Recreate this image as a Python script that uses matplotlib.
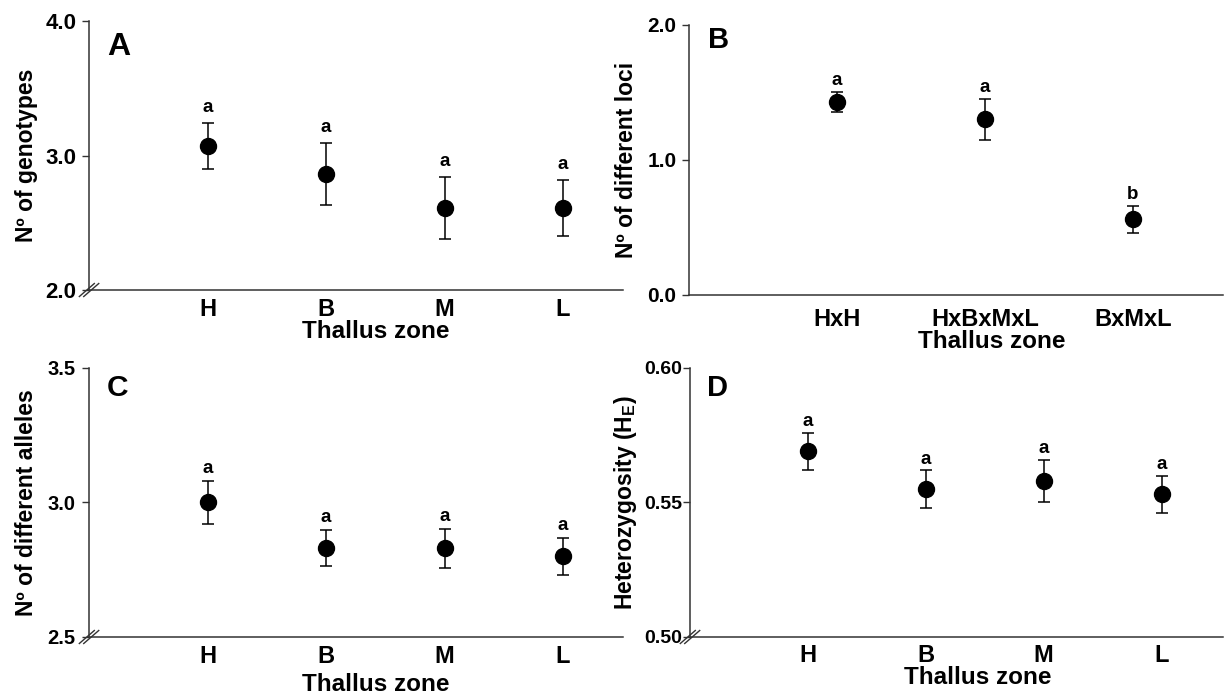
import matplotlib.pyplot as plt
import numpy as np

plt.rcParams['font.family'] = ['Liberation Sans', 'DejaVu Sans']
plt.rcParams['font.weight'] = 'bold'
plt.rcParams['mathtext.fontset'] = 'custom'
plt.rcParams['mathtext.rm'] = 'Liberation Sans:bold'
plt.rcParams['mathtext.bf'] = 'Liberation Sans:bold'
plt.rcParams['mathtext.it'] = 'Liberation Sans:bold'

# categories
zones = ['H', 'B', 'M', 'L']
crosses = ['HxH', 'HxBxMxL', 'BxMxL']

# A - number of genotypes
genotypes_mean = [3.07, 2.86, 2.61, 2.61]
genotypes_se = [0.17, 0.23, 0.23, 0.21]
genotypes_grp = ['a', 'a', 'a', 'a']

# B - number of different loci
loci_mean = [1.43, 1.30, 0.56]
loci_se = [0.075, 0.15, 0.10]
loci_grp = ['a', 'a', 'b']

# C - number of different alleles
alleles_mean = [3.00, 2.83, 2.83, 2.80]
alleles_se = [0.08, 0.067, 0.072, 0.068]
alleles_grp = ['a', 'a', 'a', 'a']

# D - expected heterozygosity
het_mean = [0.569, 0.555, 0.558, 0.553]
het_se = [0.0069, 0.0069, 0.0077, 0.0069]
het_grp = ['a', 'a', 'a', 'a']

spine_col = '#333333'

fig = plt.figure(figsize=(12.28, 6.98), dpi=100)


def panel(rect, labels, means, se, grps, xmax, ylim, yticks, yfmt, ylabel,
          letter, letter_pos, letter_size, xlabel_pos, xpad, ypad, ysize,
          grp_off, breaks=True):
    ax = fig.add_axes(rect)
    x = np.arange(1, len(labels) + 1)
    ax.errorbar(x, means, yerr=se, fmt='o', color='black', ms=11.5,
                capsize=4.5, elinewidth=1.1, capthick=1.1)
    for xi, m, s, g in zip(x, means, se, grps):
        ax.annotate(g, (xi, m + s), xytext=(0, grp_off), textcoords='offset points',
                    ha='center', va='baseline', fontsize=13.5, fontweight='bold')

    ax.set_xlim(0, xmax)
    ax.set_ylim(*ylim)
    ax.set_xticks(x)
    ax.set_xticklabels(labels)
    ax.set_yticks(yticks)
    ax.set_yticklabels([yfmt % v for v in yticks])
    ax.tick_params(axis='x', length=0, pad=xpad, labelsize=17)
    ax.tick_params(axis='y', direction='out', length=5, width=1, pad=ypad,
                   labelsize=ysize, color=spine_col)

    ax.spines['top'].set_visible(False)
    ax.spines['right'].set_visible(False)
    for s in ['left', 'bottom']:
        ax.spines[s].set_color(spine_col)
        ax.spines[s].set_linewidth(1.1)

    ax.set_ylabel(ylabel, fontsize=16.5, fontweight='bold')
    ax.yaxis.set_label_coords(-0.096, 0.5)
    ax.set_xlabel('Thallus zone', fontsize=17.5, fontweight='bold', va='top')
    ax.xaxis.set_label_coords(*xlabel_pos)

    ax.text(letter_pos[0], letter_pos[1], letter, transform=ax.transAxes,
            fontsize=letter_size, fontweight='bold', ha='left', va='baseline')

    # axis break marks at the origin
    if breaks:
        bb = ax.get_position()
        wpx = bb.width * 1228
        hpx = bb.height * 698
        dx = 7.5 / wpx
        dy = 6.5 / hpx
        for sh in [-2.2 / wpx, 2.2 / wpx]:
            ax.plot([-dx + sh, dx + sh], [-dy, dy], transform=ax.transAxes,
                    color=spine_col, lw=1.0, clip_on=False)
    return ax


panel([0.0725, 0.5845, 0.4349, 0.3854], zones, genotypes_mean, genotypes_se,
      genotypes_grp, 4.506, (2.0, 4.0), [2.0, 3.0, 4.0], '%.1f',
      'Nº of genotypes', 'A', (0.034, 0.874), 23, (0.536, -0.113), 5.4, 4, 16, 8)

panel([0.5611, 0.5774, 0.4349, 0.3868], crosses, loci_mean, loci_se,
      loci_grp, 3.61, (0.0, 2.0), [0.0, 1.0, 2.0], '%.1f',
      'Nº of different loci', 'B', (0.036, 0.915), 21, (0.567, -0.131), 9.5, 4, 15, 5,
      breaks=False)

panel([0.0725, 0.0874, 0.4349, 0.3854], zones, alleles_mean, alleles_se,
      alleles_grp, 4.506, (2.5, 3.5), [2.5, 3.0, 3.5], '%.1f',
      'Nº of different alleles', 'C', (0.034, 0.896), 21.5, (0.537, -0.132), 6, 5, 14.5, 6)

panel([0.5619, 0.0874, 0.434, 0.3854], zones, het_mean, het_se,
      het_grp, 4.52, (0.50, 0.60), [0.50, 0.55, 0.60], '%.2f',
      'Heterozygosity (H$_\\mathrm{E}$)', 'D', (0.032, 0.896), 21, (0.540, -0.106),
      4.7, 0.5, 14, 5)

fig.savefig('out.png', dpi=100)
